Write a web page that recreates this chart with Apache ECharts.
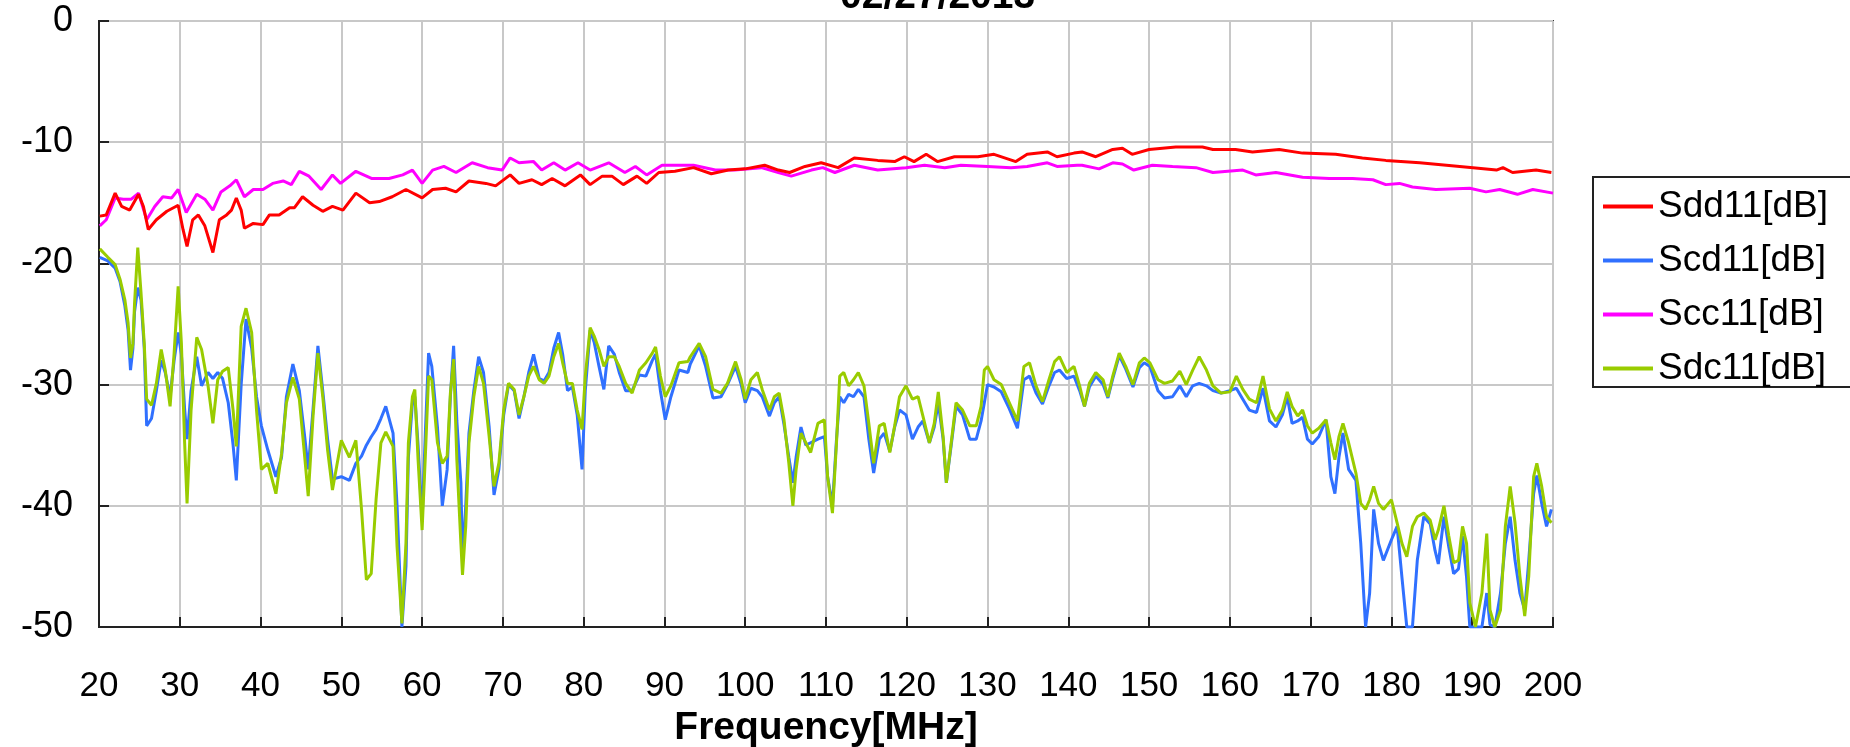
<!DOCTYPE html>
<html>
<head>
<meta charset="utf-8">
<script src="https://cdn.jsdelivr.net/npm/echarts@6/dist/echarts.min.js"></script>
<style>
  html, body { margin: 0; padding: 0; background: #fff; }
  #myChart { width: 1850px; height: 747px; }
</style>
</head>
<body>
<div id="myChart"></div>
<script>
// 频率 [MHz] / 幅度 [dB]
const xTicks = [20, 30, 40, 50, 60, 70, 80, 90, 100, 110, 120, 130, 140, 150, 160, 170, 180, 190, 200];
const yTicks = [0, -10, -20, -30, -40, -50];
const legendData = ['Sdd11[dB]', 'Scd11[dB]', 'Scc11[dB]', 'Sdc11[dB]'];

const sdd11 = [
  [20.1,-16.1],[20.9,-16],[22,-14.2],[22.8,-15.3],[23.8,-15.6],[24.9,-14.3],[25.5,-15.3],[26.1,-17.2],[27.1,-16.4],[28.4,-15.7],
  [29.8,-15.2],[30.4,-17.2],[30.9,-18.6],[31.6,-16.4],[32.3,-16],[33.1,-16.9],[34.1,-19.1],[34.9,-16.4],[35.8,-16],[36.4,-15.6],
  [37,-14.6],[37.6,-15.6],[38,-17.1],[39.1,-16.7],[40.3,-16.8],[41.1,-16],[42.3,-16],[43.6,-15.4],[44.2,-15.4],[45.2,-14.5],
  [46.5,-15.2],[47.7,-15.7],[48.9,-15.3],[50.2,-15.6],[51.8,-14.2],[53.5,-15],[54.7,-14.9],[56.3,-14.5],[58,-13.9],[60,-14.6],
  [61.3,-13.9],[62.9,-13.8],[64.2,-14.1],[65.8,-13.2],[67.9,-13.4],[69.1,-13.6],[70.9,-12.7],[72,-13.4],[73.6,-13.1],[74.8,-13.5],
  [76.1,-13],[77.7,-13.6],[79.6,-12.7],[80.8,-13.5],[82.3,-12.8],[83.5,-12.8],[84.9,-13.5],[86.6,-12.8],[87.8,-13.4],[89.3,-12.5],
  [91.3,-12.4],[93.6,-12.1],[95.8,-12.6],[97.9,-12.3],[100,-12.2],[102.4,-11.9],[104.1,-12.3],[105.5,-12.5],[107.4,-12],[109.4,-11.7],
  [111.5,-12.1],[113.5,-11.3],[116.4,-11.5],[118.5,-11.6],[119.7,-11.2],[120.9,-11.6],[122.4,-11],[123.8,-11.6],[125.9,-11.2],[128.8,-11.2],
  [130.8,-11],[133.5,-11.6],[134.9,-11],[137.4,-10.8],[138.6,-11.2],[140.7,-10.9],[141.7,-10.8],[143.4,-11.2],[145.5,-10.6],[146.7,-10.5],
  [147.9,-11],[150,-10.6],[153.3,-10.4],[156.6,-10.4],[157.9,-10.6],[160.7,-10.6],[162.8,-10.8],[166.1,-10.6],[169,-10.9],[173.1,-11],
  [176.4,-11.3],[179.3,-11.5],[183.5,-11.7],[186.8,-11.9],[190.1,-12.1],[193,-12.3],[193.8,-12.1],[195,-12.5],[197.9,-12.3],[199.8,-12.5]
];

const scc11 = [
  [20.1,-16.9],[20.9,-16.4],[22,-14.6],[23,-14.7],[24,-14.7],[24.9,-14.2],[25.9,-16.4],[26.9,-15.3],[27.9,-14.5],[29,-14.6],
  [29.8,-13.9],[30.8,-15.8],[32.1,-14.3],[33.1,-14.7],[34.1,-15.6],[35.1,-14.1],[36.2,-13.6],[37,-13.1],[38,-14.5],[39.1,-13.9],
  [40.3,-13.9],[41.5,-13.4],[42.8,-13.2],[43.8,-13.5],[44.8,-12.4],[46,-12.8],[47.5,-13.9],[48.9,-12.7],[49.9,-13.4],[51.8,-12.4],
  [53.8,-13],[55.9,-13],[57.6,-12.7],[58.8,-12.3],[60,-13.4],[61.3,-12.3],[62.7,-12],[64.2,-12.5],[66.2,-11.7],[68.1,-12.1],
  [69.9,-12.3],[70.9,-11.3],[72,-11.7],[73.8,-11.6],[74.8,-12.3],[76.3,-11.7],[77.7,-12.3],[79.3,-11.7],[80.8,-12.3],[83.1,-11.7],
  [85.1,-12.5],[86.4,-12],[87.8,-12.7],[89.7,-11.9],[91.7,-11.9],[93.6,-11.9],[96.3,-12.3],[98.7,-12.3],[102,-12.1],[104.1,-12.5],
  [105.7,-12.8],[108.2,-12.3],[109.6,-12.1],[111.1,-12.5],[113.5,-11.9],[116.4,-12.3],[119.9,-12.1],[122.2,-11.9],[124.7,-12.1],[126.7,-11.9],
  [130,-12],[132.9,-12.1],[134.9,-12],[137.4,-11.7],[138.6,-12],[141.1,-11.9],[141.7,-11.9],[143.8,-12.2],[145.5,-11.7],[146.7,-11.8],
  [148.1,-12.3],[150.4,-11.9],[152.9,-12],[155.8,-12.1],[157.9,-12.5],[161.6,-12.3],[163.2,-12.7],[165.7,-12.5],[169,-12.9],[172.3,-13],
  [175.2,-13],[177.7,-13.1],[179.3,-13.5],[181,-13.4],[182.6,-13.7],[185.5,-13.9],[189.7,-13.8],[191.7,-14.1],[193.4,-13.9],[195.6,-14.3],
  [197.5,-13.9],[200,-14.2]
];

const scd11 = [
  [20.1,-19.5],[21.1,-19.8],[22,-20.4],[22.6,-21.5],[23.2,-23.5],[23.6,-25.5],[23.9,-28.8],[24.2,-27],[24.4,-24],[24.8,-22],
  [25.2,-23],[25.6,-27],[25.9,-33.4],[26.5,-32.8],[27.1,-30.5],[27.7,-28],[28.2,-29],[28.8,-31],[29.3,-28],[29.8,-25.7],
  [30.2,-27.5],[30.6,-32],[30.9,-34.5],[31.4,-30.5],[32.1,-27.7],[32.7,-30.1],[33.5,-29],[34.1,-29.5],[34.7,-29],[35.3,-29.5],
  [36,-31.5],[36.6,-35],[37,-37.9],[37.6,-30],[38.2,-24.6],[38.9,-27],[39.5,-31],[40.1,-33.4],[40.9,-35.4],[41.9,-37.6],
  [42.6,-36],[43.2,-31],[44,-28.3],[44.8,-30.5],[45.5,-34.5],[45.9,-37],[46.5,-32],[47.1,-26.8],[47.7,-30.5],[48.3,-34.5],
  [48.9,-37.8],[50,-37.6],[51,-37.9],[51.8,-36.5],[52.5,-35.9],[53.1,-35],[53.7,-34.3],[54.3,-33.7],[54.9,-32.8],[55.5,-31.8],
  [56.4,-34],[56.9,-40],[57.5,-50],[58,-45],[58.3,-36],[58.8,-31.5],[59.1,-31],[59.5,-35],[60,-41.2],[60.4,-34],
  [60.8,-27.4],[61.2,-28.5],[61.9,-33.5],[62.5,-40],[63.1,-37],[63.5,-31],[63.9,-26.8],[64.3,-33],[64.8,-38.1],[65,-44.5],
  [65.4,-40],[65.8,-34],[66.4,-30.5],[67,-27.7],[67.6,-29],[68.3,-33.5],[68.9,-39.1],[69.5,-37],[70.1,-32.5],[70.7,-30],
  [71.4,-30.5],[72,-32.8],[72.6,-31],[73.2,-29],[73.8,-27.5],[74.5,-29.5],[75.1,-29.7],[75.7,-29],[76.3,-27],[76.9,-25.7],
  [77.4,-27.5],[78,-30.5],[78.6,-30.2],[79.2,-32.5],[79.8,-37],[80.2,-30.5],[80.8,-25.5],[81.3,-26.5],[81.9,-28.5],[82.5,-30.4],
  [83.1,-26.8],[83.8,-27.5],[84.4,-29],[85.2,-30.5],[86,-30.5],[86.9,-29.2],[87.7,-29.3],[88.5,-28],[88.9,-27.5],[89.5,-30.5],
  [90.1,-32.9],[90.8,-31],[91.8,-28.8],[92.9,-29],[93.2,-28.3],[94.3,-26.8],[95.1,-28.5],[96,-31.1],[97,-31],[97.8,-30],
  [98.8,-28.5],[99.5,-30],[100,-31.5],[100.7,-30.3],[101.5,-30.5],[102.1,-31],[103,-32.6],[103.6,-31.5],[104.2,-31],[104.8,-33.3],
  [105.4,-36],[105.9,-38.1],[106.3,-36],[106.9,-33.5],[107.5,-35],[108.1,-34.8],[109,-34.5],[109.8,-34.3],[110.2,-37.6],[110.8,-40],
  [111.3,-34.5],[111.7,-31],[112.2,-31.5],[112.8,-30.8],[113.4,-31],[114,-30.4],[114.7,-31],[115.3,-34.5],[115.9,-37.3],[116.6,-34.5],
  [117.2,-34],[117.9,-35.5],[118.5,-33.5],[119.1,-32.1],[119.9,-32.5],[120.7,-34.5],[121.4,-33.5],[122,-33],[122.8,-34.8],[123.4,-33.5],
  [123.9,-31.5],[124.5,-34.5],[124.9,-38.1],[125.5,-35],[126.1,-31.8],[126.9,-32.5],[127.8,-34.5],[128.6,-34.5],[129.2,-33],[129.6,-31.5],
  [130,-30],[130.8,-30.2],[131.7,-30.6],[132.7,-32],[133.7,-33.6],[134.5,-29.6],[135.2,-29.3],[136,-30.7],[136.8,-31.6],[137.6,-30.1],
  [138.3,-29],[138.9,-28.8],[139.8,-29.5],[140.7,-29.3],[141.4,-30.5],[142,-31.8],[142.6,-30.2],[143.4,-29.3],[144.3,-30],[144.9,-31.1],
  [145.5,-29.5],[146.3,-27.6],[147.1,-28.7],[148,-30.2],[148.8,-28.6],[149.4,-28.2],[150.1,-28.5],[151.1,-30.5],[151.9,-31.1],[152.9,-31],
  [153.8,-30.1],[154.6,-31],[155.4,-30.1],[156.2,-29.9],[157.1,-30.1],[157.9,-30.5],[158.9,-30.7],[160,-30.5],[160.8,-30.3],[161.6,-31.2],
  [162.4,-32.1],[163.3,-32.3],[164.1,-30.3],[164.9,-33],[165.7,-33.5],[166.5,-32.5],[167.1,-31],[167.7,-33.2],[168.4,-33],[169,-32.7],
  [169.6,-34.5],[170.2,-34.9],[171,-34.3],[171.9,-32.9],[172.5,-37.6],[173,-39],[173.5,-36],[174,-34],[174.7,-37],[175.6,-37.9],
  [176.2,-43.1],[176.8,-50],[177.3,-47.2],[177.8,-40.3],[178.4,-43.1],[179,-44.5],[180,-42.8],[180.7,-41.7],[181.3,-45.9],[181.9,-50],
  [182.6,-50],[183.2,-44.5],[184,-40.9],[184.8,-41.5],[185.4,-43.7],[185.8,-44.8],[186.5,-40.9],[187.1,-43.4],[187.7,-45.6],[188.3,-45.2],
  [188.8,-42.5],[189.3,-45.9],[189.7,-50],[190.4,-50],[191.2,-50],[191.8,-47.2],[192.2,-49.8],[192.8,-50],[193.5,-47.2],[194.1,-43.1],
  [194.7,-40.9],[195.3,-44.5],[195.9,-47.2],[196.5,-48.6],[197,-44.5],[197.6,-39],[198,-37.5],[198.6,-39.8],[199.2,-41.7],[199.8,-40.3]
];

const sdc11 = [
  [20.1,-18.8],[21.1,-19.5],[22,-20.1],[22.6,-21.3],[23.2,-23],[23.6,-24.9],[23.9,-27.8],[24.2,-26.6],[24.4,-23.3],[24.8,-18.7],
  [25.2,-22.4],[25.6,-26.6],[25.9,-31.2],[26.5,-31.7],[27.1,-29.9],[27.7,-27.1],[28.2,-28.8],[28.8,-31.8],[29.3,-27.4],[29.8,-21.9],
  [30.2,-26.6],[30.6,-34.8],[30.9,-39.8],[31.4,-32.1],[32.1,-26.1],[32.7,-27.1],[33.5,-30.1],[34.1,-33.2],[34.7,-29.6],[35.3,-28.9],
  [36,-28.6],[36.6,-32.1],[37,-35.1],[37.6,-25.2],[38.2,-23.7],[38.9,-25.7],[39.5,-32.1],[40.1,-37],[40.9,-36.5],[41.9,-39],
  [42.6,-35.7],[43.2,-31.5],[44,-29.4],[44.8,-31.2],[45.5,-36.2],[45.9,-39.2],[46.5,-32.6],[47.1,-27.4],[47.7,-31],[48.3,-35.4],
  [48.9,-38.7],[50,-34.6],[51,-36],[51.8,-34.6],[52.5,-40.3],[53.1,-46.1],[53.7,-45.6],[54.3,-39.5],[54.9,-34.8],[55.5,-33.9],
  [56.4,-35.1],[56.9,-43.4],[57.5,-49.7],[58,-43.1],[58.3,-34.8],[58.8,-31],[59.1,-30.4],[59.5,-36.2],[60,-42],[60.4,-35.9],
  [60.8,-29.3],[61.2,-29.6],[61.9,-34.8],[62.5,-36.5],[63.1,-35.9],[63.5,-30.7],[63.9,-27.9],[64.3,-36.2],[64.8,-43.1],[65,-45.7],
  [65.4,-41.7],[65.8,-34.8],[66.4,-31],[67,-28.5],[67.6,-29.9],[68.3,-34.3],[68.9,-38.4],[69.5,-36.5],[70.1,-32.1],[70.7,-29.9],
  [71.4,-30.4],[72,-32.5],[72.6,-31],[73.2,-29.3],[73.8,-28.5],[74.5,-29.6],[75.1,-29.9],[75.7,-29.3],[76.3,-27.7],[76.9,-26.6],
  [77.4,-28.2],[78,-29.9],[78.6,-29.9],[79.2,-32.1],[79.8,-33.7],[80.2,-29.3],[80.8,-25.3],[81.3,-26],[81.9,-27.1],[82.5,-28.5],
  [83.1,-27.7],[83.8,-27.7],[84.4,-28.5],[85.2,-29.9],[86,-30.7],[86.9,-28.8],[87.7,-28.2],[88.5,-27.4],[88.9,-26.9],[89.5,-29.3],
  [90.1,-31],[90.8,-30.1],[91.8,-28.2],[92.9,-28.1],[93.2,-27.7],[94.3,-26.6],[95.1,-27.7],[96,-30.4],[97,-30.7],[97.8,-29.9],
  [98.8,-28.1],[99.5,-29.6],[100,-31.2],[100.7,-29.6],[101.5,-29],[102.1,-30.4],[103,-32.1],[103.6,-31],[104.2,-30.7],[104.8,-32.9],
  [105.4,-36.5],[105.9,-40],[106.3,-37],[106.9,-34],[107.5,-34.8],[108.1,-35.6],[109,-33.2],[109.8,-32.9],[110.2,-37.6],[110.8,-40.6],
  [111.3,-34.8],[111.7,-29.3],[112.2,-29],[112.8,-30.1],[113.4,-29.6],[114,-29],[114.7,-30.1],[115.3,-33.2],[115.9,-36.5],[116.6,-33.4],
  [117.2,-33.2],[117.9,-35.6],[118.5,-33.4],[119.1,-31],[119.9,-30.1],[120.7,-31.2],[121.4,-31],[122,-32.6],[122.8,-34.8],[123.4,-33.2],
  [123.9,-30.6],[124.5,-34.3],[124.9,-38.1],[125.5,-34.8],[126.1,-31.5],[126.9,-32.1],[127.8,-33.4],[128.6,-33.4],[129.2,-31.8],[129.6,-28.8],
  [130,-28.5],[130.8,-29.6],[131.7,-30],[132.7,-31.5],[133.7,-33],[134.5,-28.5],[135.2,-28.2],[136,-30.1],[136.8,-31.4],[137.6,-29.6],
  [138.3,-28.1],[138.9,-27.7],[139.8,-29],[140.7,-28.5],[141.4,-30.1],[142,-31.8],[142.6,-29.9],[143.4,-29],[144.3,-29.6],[144.9,-31],
  [145.5,-29.3],[146.3,-27.4],[147.1,-28.5],[148,-30],[148.8,-28.2],[149.4,-27.8],[150.1,-28.2],[151.1,-29.6],[151.9,-29.9],[152.9,-29.7],
  [153.8,-28.9],[154.6,-30],[155.4,-28.8],[156.2,-27.7],[157.1,-28.8],[157.9,-30.1],[158.9,-30.7],[160,-30.6],[160.8,-29.3],[161.6,-30.4],
  [162.4,-31.2],[163.3,-31.5],[164.1,-29.3],[164.9,-32],[165.7,-33],[166.5,-32.1],[167.1,-30.6],[167.7,-31.8],[168.4,-32.6],[169,-32.1],
  [169.6,-33.4],[170.2,-34],[171,-33.6],[171.9,-32.9],[172.5,-34.8],[173,-36.2],[173.5,-34.3],[174,-33.2],[174.7,-34.8],[175.6,-37.3],
  [176.2,-39.8],[176.8,-40.3],[177.3,-39.5],[177.8,-38.4],[178.4,-39.8],[179,-40.3],[180,-39.5],[180.7,-41.4],[181.3,-43.1],[181.9,-44.2],
  [182.6,-41.7],[183.2,-40.9],[184,-40.6],[184.8,-41.2],[185.4,-42.8],[185.8,-42],[186.5,-40],[187.1,-42.5],[187.7,-44.7],[188.3,-44.5],
  [188.8,-41.7],[189.3,-43.1],[189.7,-48],[190.4,-50],[191.2,-47.2],[191.8,-42.3],[192.2,-48.6],[192.8,-50],[193.5,-48.6],[194.1,-41.7],
  [194.7,-38.4],[195.3,-41.4],[195.9,-45.8],[196.5,-49.1],[197,-45.8],[197.6,-37.6],[198,-36.5],[198.6,-38.4],[199.2,-40.9],[199.8,-41.4]
];

const colors = {
  sdd: '#ff0000',
  scd: '#3070ff',
  scc: '#ff00ff',
  sdc: '#99cc00'
};

const font = 'Arial, "Liberation Sans", sans-serif';

const setOption = () => {
  const lineSeries = (name, data, color) => ({
    name,
    type: 'line',
    data,
    showSymbol: false,
    symbol: 'none',
    smooth: false,
    clip: true,
    color,
    lineStyle: { color, width: 3 },
    emphasis: { disabled: true }
  });
  return {
    animation: false,
    backgroundColor: '#fff',
    title: {
      text: '02/27/2013',
      left: 840,
      top: -22,
      padding: 0,
      textStyle: { fontFamily: font, fontSize: 39, fontWeight: 'bold', color: '#000' }
    },
    // 图例外框（右侧超出画布）
    graphic: [
      {
        type: 'rect',
        left: 1592,
        top: 176,
        shape: { width: 300, height: 210 },
        style: { fill: '#fff', stroke: '#222', lineWidth: 2 },
        z: 0
      }
    ],
    legend: {
      data: legendData,
      orient: 'vertical',
      left: 1592,
      top: 176,
      icon: 'rect',
      itemWidth: 50,
      itemHeight: 4,
      itemGap: 17,
      padding: [12, 40, 2, 11],
      textStyle: { fontFamily: font, fontSize: 37, color: '#000' },
      z: 5
    },
    grid: {
      left: 99,
      top: 21,
      width: 1454,
      height: 606,
      outerBoundsMode: 'none',
      containLabel: false,
      show: true,
      borderColor: '#333',
      borderWidth: 2,
      backgroundColor: '#fff'
    },
    xAxis: {
      type: 'value',
      min: 20,
      max: 200,
      interval: 10,
      name: 'Frequency[MHz]',
      nameLocation: 'middle',
      nameGap: 73,
      nameTextStyle: { fontFamily: font, fontSize: 39, fontWeight: 'bold', color: '#000' },
      axisLine: { show: true, onZero: false, lineStyle: { color: '#222', width: 2 } },
      axisTick: { show: true, inside: true, length: 10, lineStyle: { color: '#222', width: 2 } },
      axisLabel: {
        fontFamily: font, fontSize: 35, color: '#000', margin: 42,
        formatter: (v) => (xTicks.includes(v) ? String(v) : '')
      },
      splitLine: { show: true, lineStyle: { color: '#c8c8c8', width: 2 } }
    },
    yAxis: {
      type: 'value',
      min: -50,
      max: 0,
      interval: 10,
      axisLine: { show: true, onZero: false, lineStyle: { color: '#222', width: 2 } },
      axisTick: { show: true, inside: true, length: 10, lineStyle: { color: '#222', width: 2 } },
      axisLabel: {
        fontFamily: font, fontSize: 36, color: '#000', margin: 26,
        formatter: (v) => (yTicks.includes(v) ? String(v) : '')
      },
      splitLine: { show: true, lineStyle: { color: '#c8c8c8', width: 2 } }
    },
    // 绘制顺序：蓝、绿在下，洋红、红在上
    series: [
      lineSeries('Scd11[dB]', scd11, colors.scd),
      lineSeries('Sdc11[dB]', sdc11, colors.sdc),
      lineSeries('Scc11[dB]', scc11, colors.scc),
      lineSeries('Sdd11[dB]', sdd11, colors.sdd)
    ]
  };
};

const myChart = echarts.init(document.getElementById('myChart'), null, { renderer: 'canvas' });
myChart.setOption(setOption());
</script>
</body>
</html>
